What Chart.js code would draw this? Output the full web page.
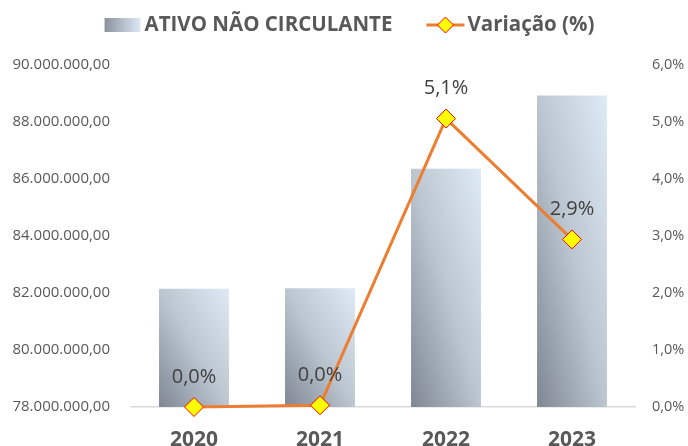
<!DOCTYPE html>
<html>
<head>
<meta charset="utf-8">
<script src="https://cdn.jsdelivr.net/npm/chart.js@4.4.1/dist/chart.umd.min.js"></script>
<style>
  html, body { margin: 0; padding: 0; background: #fff; }
  #wrap { width: 688px; height: 446px; position: relative; }
</style>
</head>
<body>
<div id="wrap"><canvas id="chart"></canvas></div>
<script>
// data
const years = ['2020', '2021', '2022', '2023'];
const assets = [82150000, 82170000, 86360000, 88930000];
const variation = [0, 0.03, 5.06, 2.94];
const assetLabel = 'ATIVO NÃO CIRCULANTE';
const variationLabel = 'Variação (%)';

const FONT = "'Open Sans', 'Noto Sans', sans-serif";
const BAR_PCT = 0.555;

function brNumber(v) {
  // 90000000 -> 90.000.000,00
  const int = Math.round(v).toString().replace(/\B(?=(\d{3})+(?!\d))/g, '.');
  return int + ',00';
}
function brPct(v) {
  return v.toFixed(1).replace('.', ',') + '%';
}

// diagonal gradient scaled to the bar, like excel does it
function barGradient(ctx) {
  const chart = ctx.chart;
  const xs = chart.scales.x, ys = chart.scales.y;
  if (!xs || !ys || ctx.dataIndex === undefined) return '#b8c2cc';
  const cx = xs.getPixelForValue(ctx.dataIndex);
  const w = xs.width / years.length * BAR_PCT;
  const top = ys.getPixelForValue(assets[ctx.dataIndex]);
  const bottom = ys.getPixelForValue(ys.min);
  const h = bottom - top;
  if (![cx, w, top, bottom].every(Number.isFinite) || h <= 0) return '#b8c2cc';
  const x0 = cx - w / 2, y0 = bottom;
  const k = 2 * w * h / (w * w + h * h);
  const g = chart.ctx.createLinearGradient(x0, y0, x0 + h * k, y0 - w * k);
  g.addColorStop(0, '#7f8892');
  g.addColorStop(0.5, '#bcc6d0');
  g.addColorStop(1, '#deeaf6');
  return g;
}

// percentage labels above the diamonds
const pointLabels = {
  id: 'pointLabels',
  afterDatasetsDraw(chart) {
    const meta = chart.getDatasetMeta(1);
    const ctx = chart.ctx;
    ctx.save();
    ctx.font = '20px ' + FONT;
    ctx.fillStyle = '#404040';
    ctx.textAlign = 'center';
    ctx.textBaseline = 'middle';
    meta.data.forEach((pt, i) => {
      ctx.fillText(brPct(variation[i]), pt.x, pt.y - 30);
    });
    ctx.restore();
  }
};

// legend drawn at the top, like the excel one
const topLegend = {
  id: 'topLegend',
  afterDraw(chart) {
    const ctx = chart.ctx;
    ctx.save();
    ctx.font = 'bold 20.5px ' + FONT;
    ctx.textBaseline = 'middle';
    const t1 = ctx.measureText(assetLabel).width;
    const t2 = ctx.measureText(variationLabel).width;
    const total = 36 + 4 + t1 + 34 + 38 + 3 + t2;
    let x = 349.5 - total / 2;
    const y = 25;

    const g = ctx.createLinearGradient(x, 0, x + 36, 0);
    g.addColorStop(0, '#8a939c');
    g.addColorStop(1, '#dde9f5');
    ctx.fillStyle = g;
    ctx.fillRect(x, 18, 36, 14);
    x += 40;
    ctx.fillStyle = '#595959';
    ctx.fillText(assetLabel, x, y);
    x += t1 + 34;

    ctx.strokeStyle = '#ED7D31';
    ctx.lineWidth = 3;
    ctx.beginPath();
    ctx.moveTo(x, y);
    ctx.lineTo(x + 38, y);
    ctx.stroke();
    const cx = x + 19, r = 8;
    ctx.beginPath();
    ctx.moveTo(cx, y - r);
    ctx.lineTo(cx + r, y);
    ctx.lineTo(cx, y + r);
    ctx.lineTo(cx - r, y);
    ctx.closePath();
    ctx.fillStyle = '#FFFF00';
    ctx.fill();
    ctx.strokeStyle = '#FF0000';
    ctx.lineWidth = 1;
    ctx.stroke();
    x += 41;
    ctx.fillStyle = '#595959';
    ctx.fillText(variationLabel, x, y);
    ctx.restore();
  }
};

new Chart(document.getElementById('chart'), {
  data: {
    labels: years,
    datasets: [
      {
        type: 'bar',
        label: assetLabel,
        data: assets,
        yAxisID: 'y',
        backgroundColor: barGradient,
        borderWidth: 0,
        categoryPercentage: 1,
        barPercentage: BAR_PCT,
        order: 2
      },
      {
        type: 'line',
        label: variationLabel,
        data: variation,
        yAxisID: 'y1',
        borderColor: '#ED7D31',
        borderWidth: 3,
        pointStyle: 'rectRot',
        pointRadius: 9.5,
        pointBackgroundColor: '#FFFF00',
        pointBorderColor: '#FF0000',
        pointBorderWidth: 1,
        tension: 0,
        clip: false,
        order: 1
      }
    ]
  },
  options: {
    responsive: true,
    maintainAspectRatio: false,
    animation: false,
    layout: { padding: { top: 65, left: 0, right: 0, bottom: 0 } },
    plugins: {
      legend: { display: false },
      tooltip: { enabled: false }
    },
    scales: {
      x: {
        grid: { display: false, drawTicks: false },
        border: { display: true, color: '#d9d9d9', width: 1.5 },
        ticks: {
          color: '#595959',
          font: { family: FONT, size: 21, weight: 'bold' },
          padding: 20
        },
        afterFit(s) { s.height = 39; }
      },
      y: {
        position: 'left',
        min: 78000000,
        max: 90000000,
        grid: { display: false, drawTicks: false },
        border: { display: false },
        ticks: {
          stepSize: 2000000,
          color: '#595959',
          font: { family: FONT, size: 15 },
          padding: 21,
          callback: v => brNumber(v)
        },
        afterFit(s) { s.width = 131; }
      },
      y1: {
        position: 'right',
        min: 0,
        max: 6,
        grid: { display: false, drawTicks: false },
        border: { display: false },
        ticks: {
          stepSize: 1,
          color: '#595959',
          font: { family: FONT, size: 14.5 },
          padding: 17,
          callback: v => brPct(v)
        },
        afterFit(s) { s.width = 53; }
      }
    }
  },
  plugins: [pointLabels, topLegend]
});
</script>
</body>
</html>
